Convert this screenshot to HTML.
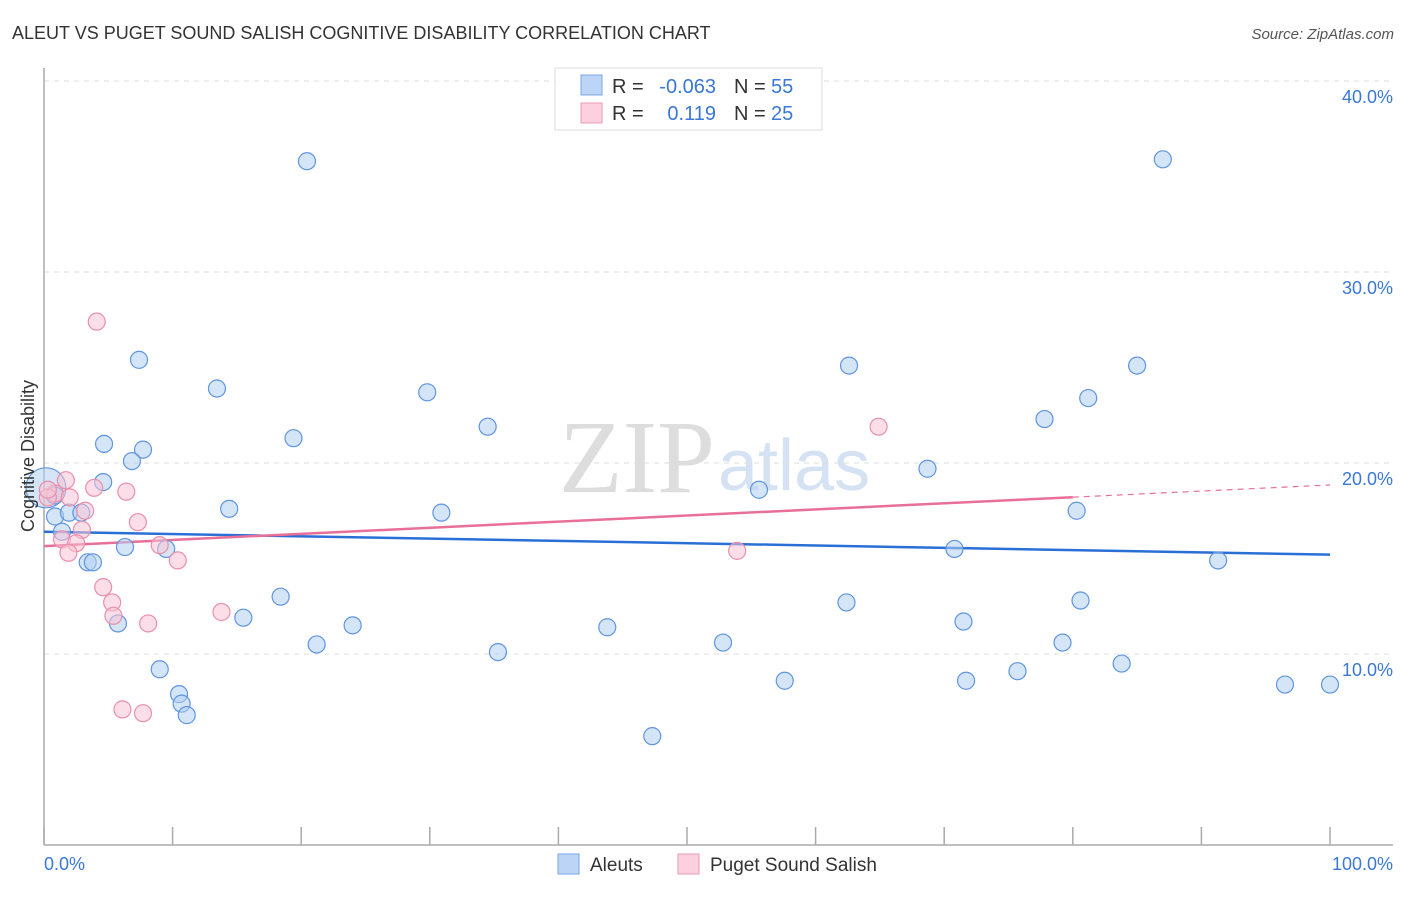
<!DOCTYPE html>
<html><head><meta charset="utf-8"><style>
body{margin:0;background:#fff;font-family:"Liberation Sans",sans-serif}
</style></head><body>
<svg width="1406" height="892" viewBox="0 0 1406 892">
<text x="12" y="39" font-size="18" fill="#333">ALEUT VS PUGET SOUND SALISH COGNITIVE DISABILITY CORRELATION CHART</text>
<text x="1394" y="39" font-size="15" fill="#555" font-style="italic" text-anchor="end">Source: ZipAtlas.com</text>
<text x="715" y="492" font-size="104" fill="#ddd" text-anchor="end" font-family="Liberation Serif,serif">ZIP</text>
<text x="718" y="490" font-size="72" fill="#d4e2f4">atlas</text>
<g id="grid"></g><g id="axes"></g><g id="lines"></g><g id="pts"></g>
<text transform="translate(34,456) rotate(-90)" font-size="18" fill="#333" text-anchor="middle">Cognitive Disability</text>
<text x="44" y="870" font-size="18" fill="#3a78d4">0.0%</text>
<text x="1393" y="870" font-size="18" fill="#3a78d4" text-anchor="end">100.0%</text>
<g font-size="20">
<rect x="555" y="68" width="267" height="62" fill="#fff" stroke="#ddd"/>
<rect x="581" y="75" width="21" height="20" fill="#bcd4f5" stroke="#7aa7e6"/>
<rect x="581" y="103" width="21" height="20" fill="#fcd0de" stroke="#ee9ab4"/>
<text x="612" y="93" fill="#333">R =</text>
<text x="716" y="93" fill="#3a78d4" text-anchor="end">-0.063</text>
<text x="734" y="93" fill="#333">N =</text>
<text x="771" y="93" fill="#3a78d4">55</text>
<text x="612" y="120" fill="#333">R =</text>
<text x="716" y="120" fill="#3a78d4" text-anchor="end">0.119</text>
<text x="734" y="120" fill="#333">N =</text>
<text x="771" y="120" fill="#3a78d4">25</text>
</g>
<g>
<rect x="558" y="854" width="21" height="20" fill="#bcd4f5" stroke="#7aa7e6"/>
<text x="590" y="871" font-size="19" fill="#333">Aleuts</text>
<rect x="678" y="854" width="21" height="20" fill="#fcd0de" stroke="#ee9ab4"/>
<text x="710" y="871" font-size="19" fill="#333">Puget Sound Salish</text>
</g>
</svg>
<script>
const yTicks=[10,20,30,40];
const xTicks=[0,10,20,30,40,50,60,70,80,90,100];
const blueX=[0.15,20.45,87.0,7.39,62.6,85.0,13.45,29.8,81.2,77.8,34.5,19.4,4.67,7.7,6.84,68.7,4.6,55.6,0.85,14.4,30.9,80.3,0.86,1.94,2.9,1.4,6.3,9.5,70.8,3.4,3.8,91.3,18.4,62.4,80.6,15.5,71.5,5.75,24.0,43.8,52.8,21.2,79.2,35.3,9.0,83.8,75.7,57.6,71.7,96.5,100,10.5,10.7,11.1,47.3];
const blueY=[18.7,35.8,35.9,25.4,25.1,25.1,23.9,23.7,23.4,22.3,21.9,21.3,21.0,20.7,20.1,19.7,19.0,18.6,18.3,17.6,17.4,17.5,17.2,17.4,17.4,16.4,15.6,15.5,15.5,14.8,14.8,14.9,13.0,12.7,12.8,11.9,11.7,11.6,11.5,11.4,10.6,10.5,10.6,10.1,9.2,9.5,9.1,8.6,8.6,8.4,8.4,7.9,7.4,6.8,5.7];
const pinkX=[4.1,64.9,1.7,3.9,6.4,0.86,2.0,0.3,3.2,7.3,2.95,1.4,2.5,9.0,1.9,53.9,10.4,4.6,5.3,5.4,13.8,8.1,6.1,7.7,0.3];
const pinkY=[27.4,21.9,19.1,18.7,18.5,18.4,18.2,18.2,17.5,16.9,16.5,16.0,15.8,15.7,15.3,15.4,14.9,13.5,12.7,12.0,12.2,11.6,7.1,6.9,18.6];
const blueTrend=[16.4,15.2];
const pinkTrend=[15.65,18.85];
const sx=v=>44+v*12.86, sy=v=>845-v*19.1;
const NS="http://www.w3.org/2000/svg";
function mk(p,t,a){const e=document.createElementNS(NS,t);for(const k in a)e.setAttribute(k,a[k]);document.getElementById(p).appendChild(e);return e;}
yTicks.forEach(t=>{
 let l=mk('grid','line',{x1:44,x2:1393,y1:sy(t),y2:sy(t),stroke:'#ddd','stroke-dasharray':'5,5'});
 
 
 let tx=mk('grid','text',{x:1393,y:sy(t)+22,'font-size':18,fill:'#3a78d4','text-anchor':'end'});tx.textContent=t.toFixed(1)+'%';
 
 
});
let ax=mk('axes','line',{x1:44,x2:44,y1:68,y2:845,stroke:'#aaa','stroke-width':1.5});


let bx=mk('axes','line',{x1:44,x2:1393,y1:845,y2:845,stroke:'#aaa','stroke-width':1.5});


xTicks.forEach(t=>{let l=mk('axes','line',{x1:sx(t),x2:sx(t),y1:827,y2:845,stroke:'#aaa','stroke-width':1.5});
 
 });
function pts(X,Y,fill,stroke,name){X.forEach((x,i)=>{const big=(name==='aleut-point'&&i===0);
 let c=mk('pts','circle',{cx:sx(x),cy:sy(Y[i]),r:big?20:8.5,fill:fill,'fill-opacity':0.55,stroke:stroke,'stroke-width':1.2});
 
 });}
pts(blueX,blueY,'#b3cff3','#5f95e0','aleut-point');
pts(pinkX,pinkY,'#f8c3d3','#ea8fac','salish-point');
let b=mk('lines','line',{x1:sx(0),x2:sx(100),y1:sy(blueTrend[0]),y2:sy(blueTrend[1]),stroke:'#2a6fd6','stroke-width':2.5});


const p80=pinkTrend[0]+(pinkTrend[1]-pinkTrend[0])*0.8;
let p=mk('lines','line',{x1:sx(0),x2:sx(80),y1:sy(pinkTrend[0]),y2:sy(p80),stroke:'#e86f98','stroke-width':2.5});


let pd=mk('lines','line',{x1:sx(80),x2:sx(100),y1:sy(p80),y2:sy(pinkTrend[1]),stroke:'#e86f98','stroke-width':1.2,'stroke-dasharray':'6,5'});


</script>
</body></html>
